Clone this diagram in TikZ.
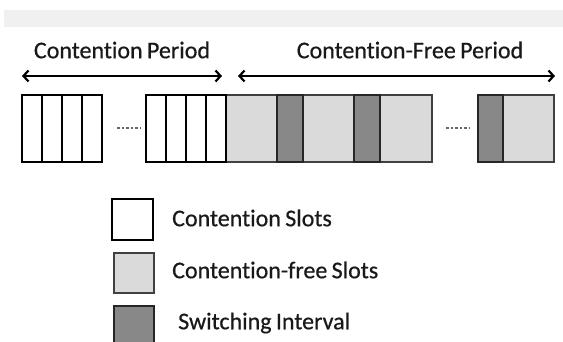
\documentclass[tikz,border=0pt]{standalone}
\usepackage{fontspec}
\setmainfont{Carlito}[Ligatures=NoCommon, FakeBold=0.6, WordSpace=0.8]
\usetikzlibrary{arrows.meta}
\definecolor{lightslot}{HTML}{DADADA}
\definecolor{darkslot}{HTML}{888888}
\definecolor{bandgray}{HTML}{F0F0F0}
\begin{document}
\begin{tikzpicture}[x=1pt,y=-1pt,
  cslot/.style={draw=black, line width=2.6pt, fill=white},
  freeslot/.style={draw=black!75, line width=1.3pt, fill=lightslot},
  switchslot/.style={draw=black!85, line width=1.3pt, fill=darkslot},
  divider/.style={draw=black, line width=2.3pt},
  period/.style={line width=1.5pt,
    {Straight Barb[length=5pt,width=11pt,line width=2.2pt]}-{Straight Barb[length=5pt,width=11pt,line width=2.2pt]}},
  gap/.style={draw=black!60, line width=2.5pt, dash pattern=on 2.5pt off 2pt},
  txt/.style={font=\fontsize{24}{28}\selectfont, inner sep=0pt, text=black!90}]
\useasboundingbox (0,0) rectangle (563,342);
\clip (0,0) rectangle (563,342);

% header band
\fill[bandgray] (4,10) rectangle (563,27);

% period labels
\node[txt] (cp)  at (122,50) {Contention Period};
\node[txt] (cfp) at (410,50) {Contention-Free Period};

% period arrows
\coordinate (cpL)  at (22,76);
\coordinate (cpR)  at (222,76);
\coordinate (cfpL) at (238,76);
\coordinate (cfpR) at (555,76);
\draw[period] (cpL) -- (cpR);
\draw[period] (cfpL) -- (cfpR);

% contention-free slots with switching intervals
\draw[freeslot] (226,95) rectangle (432,162);
\draw[switchslot] (277,95) rectangle (303,162);
\draw[switchslot] (354,95) rectangle (380,162);
\draw[freeslot] (478,95) rectangle (554,162);
\draw[switchslot] (478,95) rectangle (503,162);

% contention slots, first group
\draw[cslot] (22,95) rectangle (102,162);
\foreach \x in {42,62,82} \draw[divider] (\x,95) -- (\x,162);
% contention slots, second group
\draw[cslot] (146,95) rectangle (226,162);
\foreach \x in {166,186,206} \draw[divider] (\x,95) -- (\x,162);

% omitted slots
\draw[gap] (117,128) -- (140,128);
\draw[gap] (446,128) -- (469,128);

% legend
\draw[cslot] (112,199) rectangle (153,240);
\draw[freeslot] (114,253) rectangle (154,293);
\draw[switchslot] (114,306) rectangle (154,348);
\node[txt, anchor=west] (lg1) at (172,218) {Contention Slots};
\node[txt, anchor=west] (lg2) at (172,270) {Contention-free Slots};
\node[txt, anchor=west] (lg3) at (178,323) {Switching Interval};
\end{tikzpicture}
\end{document}
